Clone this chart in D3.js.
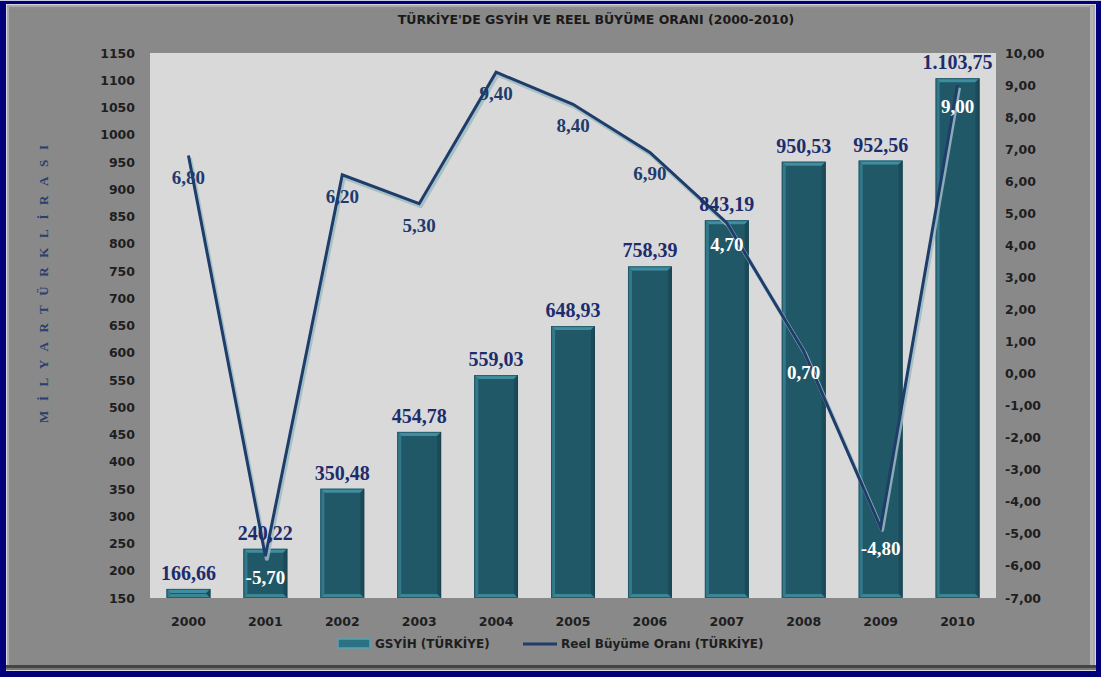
<!DOCTYPE html>
<html>
<head>
<meta charset="utf-8">
<script src="https://cdn.jsdelivr.net/npm/d3@7"></script>
<style>
  html, body { margin: 0; padding: 0; background: #000080; }
  svg { display: block; }
</style>
</head>
<body>
<svg id="chart" width="1101" height="677"></svg>
<script>
// GSYİH (milyar TL) and real growth rate (%) for Türkiye, 2000–2010
const years = ["2000","2001","2002","2003","2004","2005","2006","2007","2008","2009","2010"];
const gdp = [166.66, 240.22, 350.48, 454.78, 559.03, 648.93, 758.39, 843.19, 950.53, 952.56, 1103.75];
const growth = [6.80, -5.70, 6.20, 5.30, 9.40, 8.40, 6.90, 4.70, 0.70, -4.80, 9.00];
const leftTicks = d3.range(150, 1151, 50);
const rightTicks = d3.range(-7, 11, 1);
const title = "TÜRKİYE'DE GSYİH VE REEL BÜYÜME ORANI (2000-2010)";
const leftAxisTitle = "MİLYARTÜRKLİRASI";
const legendLabels = ["GSYİH (TÜRKİYE)", "Reel Büyüme Oranı (TÜRKİYE)"];

const tr = d3.formatLocale({decimal: ",", thousands: ".", grouping: [3], currency: ["", " TL"], minus: "-"});
const fmtValue = tr.format(",.2f");

const svg = d3.select("#chart");
const W = 1101, H = 677;
const plot = {left: 150, right: 996, top: 53, bottom: 598};

// ---- frame ----
svg.append("rect").attr("x", 0).attr("y", 0).attr("width", W).attr("height", H).attr("fill", "#00007a");
svg.append("rect").attr("x", 0).attr("y", 0).attr("width", W).attr("height", 1).attr("fill", "#c8c8e0");
svg.append("rect").attr("x", 6).attr("y", 4).attr("width", 1090).attr("height", 667).attr("fill", "#d8d8d8");
svg.append("rect").attr("x", 7).attr("y", 5).attr("width", 1088).attr("height", 665).attr("fill", "#a9a9a9");
svg.append("rect").attr("x", 9).attr("y", 7).attr("width", 1084).attr("height", 660).attr("fill", "#8c8c8c");
svg.append("rect").attr("x", 6).attr("y", 665).attr("width", 1090).attr("height", 3).attr("fill", "#444");
svg.append("rect").attr("x", 6).attr("y", 668).attr("width", 1090).attr("height", 2).attr("fill", "#777");
svg.append("rect").attr("x", 1090).attr("y", 7).attr("width", 3).attr("height", 658).attr("fill", "#b4b4b4");
svg.append("rect").attr("x", 9).attr("y", 9).attr("width", 1081).attr("height", 656).attr("fill", "#898989");

// ---- title ----
svg.append("text")
  .attr("x", 596).attr("y", 24)
  .attr("text-anchor", "middle")
  .attr("font-family", "DejaVu Sans, Verdana, sans-serif")
  .attr("font-weight", "bold").attr("font-size", 12.5)
  .attr("fill", "#1a1a1a")
  .text(title);

// ---- plot area ----
svg.append("rect")
  .attr("x", plot.left).attr("y", plot.top)
  .attr("width", plot.right - plot.left).attr("height", plot.bottom - plot.top)
  .attr("fill", "#d9d9d9");

const x = d3.scaleBand().domain(years).range([plot.left, plot.right]).paddingInner(0.43).paddingOuter(0.215);
const yL = d3.scaleLinear().domain([150, 1150]).range([plot.bottom, plot.top]);
const yR = d3.scaleLinear().domain([-7, 10]).range([plot.bottom, plot.top]);

// ---- axes ----
const tickFont = g => g.selectAll("text")
  .attr("font-family", "DejaVu Sans, Verdana, sans-serif")
  .attr("font-weight", "bold").attr("font-size", 12.5).attr("fill", "#1e1e1e");

svg.append("g").attr("transform", `translate(${plot.left},0)`)
  .call(d3.axisLeft(yL).tickValues(leftTicks).tickSize(0).tickPadding(15).tickFormat(d3.format("d")))
  .call(g => g.select(".domain").remove())
  .call(tickFont);

svg.append("g").attr("transform", `translate(${plot.right},0)`)
  .call(d3.axisRight(yR).tickValues(rightTicks).tickSize(0).tickPadding(9).tickFormat(tr.format(".2f")))
  .call(g => g.select(".domain").remove())
  .call(tickFont);

svg.append("g").attr("transform", `translate(0,${plot.bottom})`)
  .call(d3.axisBottom(x).tickSize(0).tickPadding(19))
  .call(g => g.select(".domain").remove())
  .call(tickFont);

// vertical axis title
svg.append("text")
  .attr("transform", "translate(48,284) rotate(-90)")
  .attr("text-anchor", "middle")
  .attr("font-family", "Liberation Serif, Times New Roman, serif")
  .attr("font-weight", "bold").attr("font-size", 13)
  .attr("fill", "#2a3f6e")
  .attr("textLength", 278).attr("lengthAdjust", "spacing")
  .text(leftAxisTitle);

// ---- bevelled bars ----
const bev = 4;
const bars = svg.append("g").selectAll("g").data(years).join("g");
bars.each(function(yr, i) {
  const g = d3.select(this);
  const x0 = x(yr), w = x.bandwidth();
  const y0 = yL(gdp[i]), y1 = plot.bottom, h = y1 - y0;
  const b = Math.min(bev, h / 2);
  g.append("rect").attr("x", x0).attr("y", y0).attr("width", w).attr("height", h).attr("fill", "#215868");
  const poly = (pts, fill) => g.append("polygon").attr("points", pts.map(p => p.join(",")).join(" ")).attr("fill", fill);
  poly([[x0, y0], [x0 + w, y0], [x0 + w - b, y0 + b], [x0 + b, y0 + b]], "#3f8d9f");
  poly([[x0, y0], [x0 + b, y0 + b], [x0 + b, y1 - b], [x0, y1]], "#31798b");
  poly([[x0 + w, y0], [x0 + w, y1], [x0 + w - b, y1 - b], [x0 + w - b, y0 + b]], "#1b4b59");
  poly([[x0, y1], [x0 + b, y1 - b], [x0 + w - b, y1 - b], [x0 + w, y1]], "#3a8696");
  g.append("rect").attr("x", x0 + 0.5).attr("y", y0 + 0.5).attr("width", w - 1).attr("height", h - 1)
    .attr("fill", "none").attr("stroke", "#17404c").attr("stroke-width", 1).attr("stroke-opacity", 0.6);
});

// ---- growth line ----
const pts = years.map((yr, i) => [x(yr) + x.bandwidth() / 2, yR(growth[i])]);
const line = d3.line();
svg.append("path").attr("d", line(pts))
  .attr("transform", "translate(1.5,2.5)")
  .attr("fill", "none").attr("stroke", "#9dbbc2").attr("stroke-width", 4).attr("stroke-opacity", 0.85)
  .attr("stroke-linejoin", "round");
svg.append("path").attr("d", line(pts))
  .attr("fill", "none").attr("stroke", "#1f3d6a").attr("stroke-width", 3)
  .attr("stroke-linejoin", "miter");

// ---- value labels ----
const serif = "Liberation Serif, Times New Roman, serif";
svg.append("g").selectAll("text").data(years).join("text")
  .attr("x", d => x(d) + x.bandwidth() / 2)
  .attr("y", (d, i) => yL(gdp[i]) - 9)
  .attr("text-anchor", "middle")
  .attr("font-family", serif).attr("font-weight", "bold").attr("font-size", 20)
  .attr("fill", "#1c2c6c")
  .text((d, i) => fmtValue(gdp[i]));

svg.append("g").selectAll("text").data(years).join("text")
  .attr("x", d => x(d) + x.bandwidth() / 2)
  .attr("y", (d, i) => yR(growth[i]) + 28)
  .attr("text-anchor", "middle")
  .attr("font-family", serif).attr("font-weight", "bold").attr("font-size", 19)
  .attr("fill", (d, i) => (yR(growth[i]) + 14 > yL(gdp[i]) ? "#ffffff" : "#1f3b6c"))
  .text((d, i) => fmtValue(growth[i]));

// ---- legend ----
const lg = svg.append("g");
lg.append("rect").attr("x", 338).attr("y", 639).attr("width", 32).attr("height", 9)
  .attr("fill", "#2b7384").attr("stroke", "#5aa2b1").attr("stroke-width", 1.5);
lg.append("text").attr("x", 375).attr("y", 648)
  .attr("font-family", "DejaVu Sans, Verdana, sans-serif").attr("font-weight", "bold").attr("font-size", 12)
  .attr("fill", "#1e1e1e").text(legendLabels[0]);
lg.append("line").attr("x1", 523).attr("x2", 557).attr("y1", 644).attr("y2", 644)
  .attr("stroke", "#1f3d6a").attr("stroke-width", 3);
lg.append("text").attr("x", 561).attr("y", 648)
  .attr("font-family", "DejaVu Sans, Verdana, sans-serif").attr("font-weight", "bold").attr("font-size", 12)
  .attr("fill", "#1e1e1e").text(legendLabels[1]);
</script>
</body>
</html>
